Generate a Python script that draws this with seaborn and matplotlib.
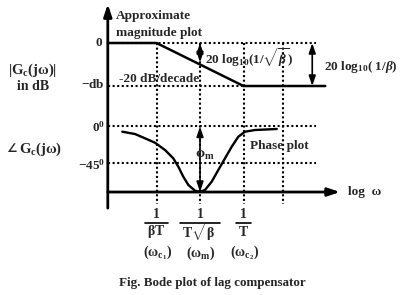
import matplotlib
matplotlib.use("Agg")
import matplotlib.pyplot as plt
from matplotlib.lines import Line2D
import seaborn as sns
import pandas as pd
import numpy as np

sns.set_theme(style="white")
plt.rcParams['font.family'] = ['Liberation Serif', 'DejaVu Serif']
plt.rcParams['font.weight'] = 'bold'
plt.rcParams['mathtext.fontset'] = 'custom'
plt.rcParams['mathtext.rm'] = 'Liberation Serif:bold'
plt.rcParams['mathtext.it'] = 'Liberation Serif:bold:italic'
plt.rcParams['mathtext.bf'] = 'Liberation Serif:bold'

# ---------------- data (x in log10(omega) relative to omega_c1) ----------------
corner_logw = [0.0, 0.5, 1.0]
extra_grid_logw = 1.45
axis_start_logw = -0.56
axis_end_logw = 2.11
grid_end_logw = 1.83

mag_logw = [-0.56, 0.0, 1.0, 1.94]
mag_db = [0, 0, -20, -20]

phase_logw = [-0.393, -0.247, -0.132, -0.017, 0.098, 0.193, 0.251, 0.308, 0.366,
              0.443, 0.5, 0.557, 0.634, 0.710, 0.787, 0.864, 0.940, 1.017, 1.132, 1.382]
phase_deg = [-6.5, -9.4, -14.8, -20.3, -29.4, -39.8, -50.3, -62.8, -73.1,
             -80.3, -81.5, -79.4, -69.0, -54.4, -39.8, -25.3, -12.8, -6.5, -4.4, -3.1]

phase_levels = [0, -45]
phase_level_labels = [r"0$^{0}$", r"$-$45$^{0}$"]
axis_phase = -81.9

tick_num = ["1", "1", "1"]
tick_den = [r"$\mathrm{\beta T}$", r"$\mathrm{T}\sqrt{\mathrm{\beta}}$", r"$\mathrm{T}$"]
tick_names = [r"$(\mathrm{\omega}_{\mathrm{c}_1})$", r"$(\mathrm{\omega}_{\mathrm{m}})$",
              r"$(\mathrm{\omega}_{\mathrm{c}_2})$"]

mag_df = pd.DataFrame({"logw": mag_logw, "db": mag_db})
ph_df = pd.DataFrame({"logw": phase_logw, "deg": phase_deg})

W, H = 415, 295
fig = plt.figure(figsize=(W / 100, H / 100), dpi=100)
ax_m = fig.add_axes([0, 0, 1, 1])
ax_p = fig.add_axes([0, 0, 1, 1])
for a in (ax_m, ax_p):
    a.set_xlim(-1.799, 2.971)
    a.patch.set_alpha(0)
ax_m.set_ylim(-117.2, 20)
ax_p.set_ylim(-210.6, 158.1)

def px_to_fig(x, y):
    return x / W, 1 - y / H

def mag2ph(db):
    yd = ax_m.transData.transform((0, db))[1]
    return ax_p.transData.inverted().transform((0, yd))[1]

lw_axis = 2.0
dot = dict(color="black", lw=1.5, linestyle=(0, (1, 1.2)))

# dotted grid
top_ph = mag2ph(0)
for lw_ in corner_logw + [extra_grid_logw]:
    ax_p.plot([lw_, lw_], [top_ph, -97], **dot)
ax_m.plot([axis_start_logw, grid_end_logw], [0, 0], **dot)
ax_m.plot([axis_start_logw, corner_logw[2]], [-20, -20], **dot)
for lev in phase_levels:
    ax_p.plot([axis_start_logw, grid_end_logw], [lev, lev], **dot)

# curves
sns.lineplot(data=mag_df, x="logw", y="db", ax=ax_m, color="black", lw=1.8,
             sort=False, estimator=None)
sns.lineplot(data=ph_df, x="logw", y="deg", ax=ax_p, color="black", lw=1.7,
             sort=False, estimator=None)
ax_m.axis("off"); ax_p.axis("off")

# axes with arrows
ax_p.annotate("", xy=(axis_start_logw, 153), xytext=(axis_start_logw, -102),
              arrowprops=dict(arrowstyle="-|>,head_length=0.6,head_width=0.2",
                              color="black", lw=lw_axis, shrinkA=0, shrinkB=0))
ax_p.annotate("", xy=(axis_end_logw, axis_phase), xytext=(axis_start_logw, axis_phase),
              arrowprops=dict(arrowstyle="-|>,head_length=0.6,head_width=0.2",
                              color="black", lw=lw_axis, shrinkA=0, shrinkB=0))

# dimension arrows
darr = dict(arrowstyle="<|-|>,head_length=0.5,head_width=0.17", color="black",
            lw=1.2, shrinkA=0, shrinkB=0)
ax_m.annotate("", xy=(corner_logw[1], 0), xytext=(corner_logw[1], -9), arrowprops=darr)
ax_m.annotate("", xy=(1.79, 0), xytext=(1.79, -20), arrowprops=darr)
ax_p.annotate("", xy=(corner_logw[1], 0), xytext=(corner_logw[1], axis_phase), arrowprops=darr)

fs = 9.5
def ftext(x, y, s, ha="left", va="center", size=fs, **kw):
    fx, fy = px_to_fig(x, y)
    return fig.text(fx, fy, s, ha=ha, va=va, fontsize=size, fontweight="bold", **kw)

ftext(116, 16, "Approximate")
ftext(116, 33, "magnitude plot")
ftext(102, 43, "0", ha="right")
ftext(33, 70, r"|G$_{\mathrm{c}}$(jω)|", ha="center", size=10.5)
ftext(33, 87, "in dB", ha="center", size=10)
ftext(105, 85, r"$-$db", ha="right")
ftext(119, 79, "-20 dB/decade")
ftext(205, 58, r"20 log$_{\mathbf{10}}$(1/$\sqrt{\mathit{\beta}}$)")
ftext(324, 67, r"20 log$_{\mathbf{10}}$( 1/$\mathit{\beta}$)")
ftext(105, 127, phase_level_labels[0], ha="right")
ftext(105, 165, phase_level_labels[1], ha="right")
fx, fy = px_to_fig(6, 149)
fig.text(fx, fy, "∠", ha="left", va="center", fontsize=8.5, family="DejaVu Sans")
ftext(19, 149, r"G$_{\mathrm{c}}$(jω)", size=10.5)
ftext(195, 153, r"ϕ$_{\mathrm{m}}$", size=10.5)
ftext(250, 146, "Phase plot")
ftext(348, 192, "log  ω")
ftext(212, 283, "Fig. Bode plot of lag compensator", ha="center", size=9.4)

fig.canvas.draw()
renderer = fig.canvas.get_renderer()
for lw_, num, den, nm in zip(corner_logw, tick_num, tick_den, tick_names):
    xd = ax_p.transData.transform((lw_, 0))[0] * W / fig.bbox.width
    ftext(xd, 214, num, ha="center", size=10)
    t = ftext(xd, 232, den, ha="center", size=10)
    bb = t.get_window_extent(renderer)
    half = max(bb.width / 2 + 2, 6)
    y_bar = 1 - 223 / H
    fig.add_artist(Line2D([(xd - half) / W, (xd + half) / W], [y_bar, y_bar],
                          transform=fig.transFigure, color="black", lw=1.2))
    ftext(xd + 1, 253, nm, ha="center", size=10)

fig.savefig("out.png", dpi=100)
